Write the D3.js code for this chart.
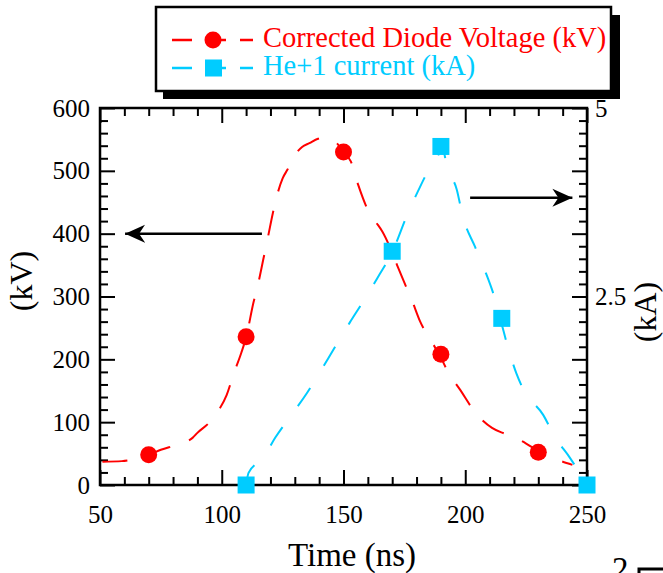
<!DOCTYPE html>
<html>
<head>
<meta charset="utf-8">
<script src="https://cdn.jsdelivr.net/npm/d3@7"></script>
<style>
  body { margin: 0; background: #fff; }
  svg { font-family: "Liberation Serif", "Times New Roman", serif; }
  .axis text { font-size: 25px; fill: #000; }
  .axis line { stroke: #000; stroke-width: 2; }
</style>
</head>
<body>
<svg width="663" height="573"></svg>
<script>
// markers
const voltTime = [70, 110, 150, 190, 230]
const voltValue = [48, 236, 530, 208, 52]
const currTime = [110, 170, 190, 215, 250]
const currValue = [0, 3.10, 4.49, 2.21, 0]

// dashed traces
const voltTraceTime = [51, 59, 65, 70, 75, 80, 85, 88, 90, 95, 98, 102, 105, 108, 110, 113, 115, 117, 119, 121, 123, 125, 127, 130, 133, 136, 139.5, 143, 147, 150, 153, 156, 160, 163, 166, 169, 172, 175, 178, 181.5, 187, 190, 192.5, 198, 204, 211, 216, 220, 225, 230, 236, 244]
const voltTraceValue = [37, 38, 42, 48, 56, 62, 68, 75, 83, 100, 115, 143, 178, 210, 235, 290, 321, 358, 395, 433, 465, 488, 502, 525, 538, 544, 551, 553, 545, 530, 515, 478, 438, 420, 403, 379, 350, 322, 295, 260, 223, 203, 183, 151, 116, 91, 82, 76, 66, 54, 43, 32]
const currTraceTime = [110, 111, 117, 122, 127, 135, 140, 146.5, 152.5, 158, 164, 170, 176.5, 180.5, 185.5, 189, 190.5, 192.5, 196.5, 199, 204, 208, 212, 215, 217.5, 221, 224, 232, 237, 243, 250]
const currTraceValue = [0, 0.16, 0.36, 0.63, 0.86, 1.22, 1.48, 1.83, 2.15, 2.43, 2.75, 3.09, 3.61, 3.89, 4.21, 4.38, 4.49, 4.22, 3.92, 3.56, 3.16, 2.85, 2.49, 2.13, 1.83, 1.48, 1.26, 0.93, 0.63, 0.36, 0]

// axes
const xMajor = [50, 100, 150, 200, 250]
const xMinor = [60, 70, 80, 90, 110, 120, 130, 140, 160, 170, 180, 190, 210, 220, 230, 240]
const yMajor = [0, 100, 200, 300, 400, 500, 600]
const yMinor = [20, 40, 60, 80, 120, 140, 160, 180, 220, 240, 260, 280, 320, 340, 360, 380, 420, 440, 460, 480, 520, 540, 560, 580]
const yRightLabels = [2.5, 5]

// arrows (time from, time to, kV level)
const arrows = [
  { from: 116.5, to: 60.3, level: 400 },
  { from: 202, to: 244, level: 457 }
]

const legendItems = ['Corrected Diode Voltage (kV)', 'He+1 current (kA)']

const red = '#ff0000'
const cyan = '#00ccff'

const svg = d3.select('svg')
const plotLeft = 100, plotRight = 587, plotTop = 108, plotBottom = 485

const x = d3.scaleLinear().domain([50, 250]).range([plotLeft, plotRight])
const yL = d3.scaleLinear().domain([0, 600]).range([plotBottom, plotTop])
const yR = d3.scaleLinear().domain([0, 5]).range([plotBottom, plotTop])

drawAxes()
drawTraces()
drawArrows()
drawLegend()

function drawAxes() {
  const g = svg.append('g').attr('class', 'axis')

  const addAxis = (axis, tx, ty) => {
    const a = g.append('g').attr('transform', `translate(${tx},${ty})`).call(axis)
    a.select('.domain').remove()
    return a
  }

  // bottom
  addAxis(d3.axisBottom(x).tickValues(xMajor).tickSizeInner(-15).tickSizeOuter(0).tickPadding(20), 0, plotBottom)
  addAxis(d3.axisBottom(x).tickValues(xMinor).tickSizeInner(-8).tickSizeOuter(0).tickFormat(''), 0, plotBottom)
  // top
  addAxis(d3.axisTop(x).tickValues(xMajor).tickSizeInner(-15).tickSizeOuter(0).tickFormat(''), 0, plotTop)
  addAxis(d3.axisTop(x).tickValues(xMinor).tickSizeInner(-8).tickSizeOuter(0).tickFormat(''), 0, plotTop)
  // left
  addAxis(d3.axisLeft(yL).tickValues(yMajor).tickSizeInner(-15).tickSizeOuter(0).tickPadding(10), plotLeft, 0)
  addAxis(d3.axisLeft(yL).tickValues(yMinor).tickSizeInner(-8).tickSizeOuter(0).tickFormat(''), plotLeft, 0)
  // right: ticks mirror the left, labels in kA
  addAxis(d3.axisRight(yL).tickValues(yMajor).tickSizeInner(-15).tickSizeOuter(0).tickFormat(''), plotRight, 0)
  addAxis(d3.axisRight(yL).tickValues(yMinor).tickSizeInner(-8).tickSizeOuter(0).tickFormat(''), plotRight, 0)
  addAxis(d3.axisRight(yR).tickValues(yRightLabels).tickSize(0).tickPadding(8).tickFormat(d3.format('')), plotRight, 0)
    .selectAll('line').remove()

  g.selectAll('g > g').attr('font-family', null).attr('font-size', null)

  svg.append('rect')
    .attr('x', plotLeft).attr('y', plotTop)
    .attr('width', plotRight - plotLeft).attr('height', plotBottom - plotTop)
    .attr('fill', 'none').attr('stroke', '#000').attr('stroke-width', 2.5)

  svg.append('text')
    .attr('x', 352).attr('y', 566)
    .attr('text-anchor', 'middle')
    .attr('font-size', 33)
    .text('Time (ns)')

  svg.append('text')
    .attr('transform', 'translate(32,281) rotate(-90)')
    .attr('text-anchor', 'middle')
    .attr('font-size', 32)
    .text('(kV)')

  svg.append('text')
    .attr('transform', 'translate(656,312) rotate(-90)')
    .attr('text-anchor', 'middle')
    .attr('font-size', 32)
    .text('(kA)')

  // fragment of the neighbouring panel
  svg.append('text')
    .attr('x', 612).attr('y', 580)
    .attr('font-size', 33)
    .text('2')
  svg.append('rect')
    .attr('x', 639).attr('y', 569).attr('width', 30).attr('height', 20)
    .attr('fill', 'none').attr('stroke', '#000').attr('stroke-width', 3)
}

function drawTraces() {
  const volt = voltTraceTime.map((t, i) => [t, voltTraceValue[i]])
  const curr = currTraceTime.map((t, i) => [t, currTraceValue[i]])

  const voltLine = d3.line().x(d => x(d[0])).y(d => yL(d[1])).curve(d3.curveMonotoneX)
  const currLine = d3.line().x(d => x(d[0])).y(d => yR(d[1])).curve(d3.curveMonotoneX)

  svg.append('path')
    .attr('d', voltLine(volt))
    .attr('fill', 'none').attr('stroke', red).attr('stroke-width', 2)
    .attr('stroke-dasharray', '25,20')

  svg.append('path')
    .attr('d', currLine(curr))
    .attr('fill', 'none').attr('stroke', cyan).attr('stroke-width', 2)
    .attr('stroke-dasharray', '22,26')

  svg.selectAll('circle.volt')
    .data(voltTime)
    .enter()
    .append('circle')
    .attr('class', 'volt')
    .attr('cx', d => x(d))
    .attr('cy', (d, i) => yL(voltValue[i]))
    .attr('r', 8.5)
    .attr('fill', red)

  svg.selectAll('rect.curr')
    .data(currTime)
    .enter()
    .append('rect')
    .attr('class', 'curr')
    .attr('x', d => x(d) - 8.5)
    .attr('y', (d, i) => yR(currValue[i]) - 8.5)
    .attr('width', 17).attr('height', 17)
    .attr('fill', cyan)
}

function drawArrows() {
  svg.append('defs').append('marker')
    .attr('id', 'head')
    .attr('viewBox', '-20 -10 22 20')
    .attr('refX', 0).attr('refY', 0)
    .attr('markerWidth', 22).attr('markerHeight', 20)
    .attr('markerUnits', 'userSpaceOnUse')
    .attr('orient', 'auto')
    .append('path')
    .attr('d', 'M0,0 L-20,-9 L-14,0 L-20,9 Z')
    .attr('fill', '#000')

  svg.selectAll('line.arrow')
    .data(arrows)
    .enter()
    .append('line')
    .attr('class', 'arrow')
    .attr('x1', d => x(d.from))
    .attr('x2', d => x(d.to))
    .attr('y1', d => yL(d.level))
    .attr('y2', d => yL(d.level))
    .attr('stroke', '#000').attr('stroke-width', 2.5)
    .attr('marker-end', 'url(#head)')
}

function drawLegend() {
  const g = svg.append('g')
  g.append('rect')
    .attr('x', 163).attr('y', 15).attr('width', 457).attr('height', 84)
    .attr('fill', '#000')
  g.append('rect')
    .attr('x', 156).attr('y', 7).attr('width', 455).attr('height', 84)
    .attr('fill', '#fff').attr('stroke', '#000').attr('stroke-width', 2.5)

  const colors = [red, cyan]
  const rows = g.selectAll('g.row')
    .data(legendItems)
    .enter()
    .append('g')
    .attr('class', 'row')
    .attr('transform', (d, i) => `translate(0,${40 + i * 28})`)

  rows.append('line')
    .attr('x1', 172).attr('x2', 253)
    .attr('stroke', (d, i) => colors[i]).attr('stroke-width', 2.5)
    .attr('stroke-dasharray', '20,14')

  rows.filter((d, i) => i === 0).append('circle')
    .attr('cx', 213).attr('r', 8.5).attr('fill', red)
  rows.filter((d, i) => i === 1).append('rect')
    .attr('x', 205).attr('y', -8.5).attr('width', 17).attr('height', 17).attr('fill', cyan)

  rows.append('text')
    .attr('x', 263).attr('y', 7)
    .attr('font-size', 28.5)
    .attr('fill', (d, i) => colors[i])
    .text(d => d)
}
</script>
</body>
</html>
